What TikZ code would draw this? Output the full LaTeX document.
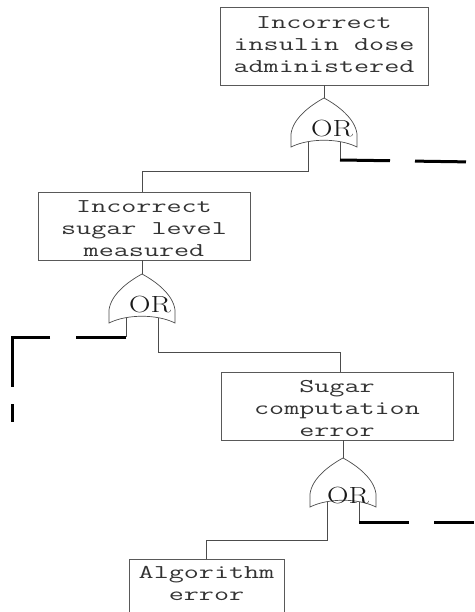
\documentclass[tikz,border=0pt]{standalone}
\usepackage{fontspec}
\usepackage{graphicx}
\begin{document}
\tikzset{
  wire/.style={draw=black!70, line width=0.7pt},
  box/.style={draw=black!65, line width=0.7pt, inner sep=0pt},
  boxtext/.style={inner sep=0pt, text=black!80, font=\fontsize{19.5}{22}\selectfont\ttfamily},
  gatelabel/.style={inner sep=0pt, text=black!90, font=\fontsize{23.4}{24}\selectfont},
  faultline/.style={line width=3pt, draw=black},
  orgate/.pic={
    \draw[wire, fill=white] (0,0) .. controls (-13,7) and (-31,20) .. (-33,36)
      -- (-33,49) .. controls (-15,40) and (15,40) .. (33,49)
      -- (33,36) .. controls (31,20) and (13,7) .. (0,0) -- cycle;
    \coordinate (-top) at (0,0);
    \coordinate (-in1) at (-16,44);
    \coordinate (-in2) at (16,44);
  }
}
% wide typewriter text block
\newcommand\widetext[1]{\scalebox{1.5}[1]{\begin{tabular}{@{}c@{}}#1\end{tabular}}}
\newcommand\gateword{\scalebox{1.27}[1]{OR}}
\begin{tikzpicture}[x=1pt, y=-1pt]
  \useasboundingbox (0,0) rectangle (474,612);
  \clip (0,0) rectangle (474,612);

  % event boxes
  \node[box, minimum width=208pt, minimum height=78pt] (b1) at (324,46) {};
  \node[boxtext] (b1t) at (324,46) {\widetext{Incorrect\\insulin dose\\administered}};

  \node[box, minimum width=212pt, minimum height=68pt] (b2) at (144,226) {};
  \node[boxtext] (b2t) at (144,230) {\widetext{Incorrect\\sugar level\\measured}};

  \node[box, minimum width=232pt, minimum height=68pt] (b3) at (337,406) {};
  \node[boxtext] (b3t) at (337,410) {\widetext{Sugar\\computation\\error}};

  \node[box, minimum width=155pt, minimum height=68pt] (b4) at (206.5,593) {};
  \node[boxtext] (b4t) at (206.5,584.6) {\widetext{Algorithm\\error}};

  % OR gates
  \pic (g1) at (324,98) {orgate};
  \pic (g2) at (142,274) {orgate};
  \pic (g3) at (343,458) {orgate};
  \node[gatelabel, anchor=base] (g1t) at (332,137) {\gateword};
  \node[gatelabel, anchor=base] (g2t) at (150,312) {\gateword};
  \node[gatelabel, anchor=base] (g3t) at (348,503) {\gateword};

  % gate outputs to their events
  \draw[wire] (b1.south -| g1-top) -- (g1-top);
  \draw[wire] (b2.south -| g2-top) -- (g2-top);
  \draw[wire] (b3.south -| g3-top) -- (g3-top);

  % gate inputs to lower events
  \draw[wire] (g1-in1) -- ++(0,29) -| (g2-top |- b2.north);
  \draw[wire] (g2-in2) -- ++(0,34) -| ([xshift=3pt]b3.north);
  \draw[wire] (g3-in1) -- ++(0,38) -| (b4.north);

  % undeveloped branches
  \coordinate (e1) at (474,162);
  \coordinate (c2) at (12,337);
  \coordinate (e2) at (12,425);
  \coordinate (e3) at (474,522);
  \draw[wire] (g1-in2) -- ++(0,18) coordinate (d1);
  \draw[faultline, dash pattern=on 50pt off 25pt on 51pt off 40pt] (d1) -- (e1);
  \draw[wire] (g2-in1) -- ++(0,19) coordinate (d2);
  \draw[faultline, dash pattern=on 50pt off 26pt on 88pt off 17pt on 18pt off 60pt]
    (d2) -- (c2) -- (e2);
  \draw[wire] (g3-in2) -- ++(0,20) coordinate (d3);
  \draw[faultline, dash pattern=on 50pt off 25pt on 80pt] (d3) -- (e3);
\end{tikzpicture}
\end{document}
